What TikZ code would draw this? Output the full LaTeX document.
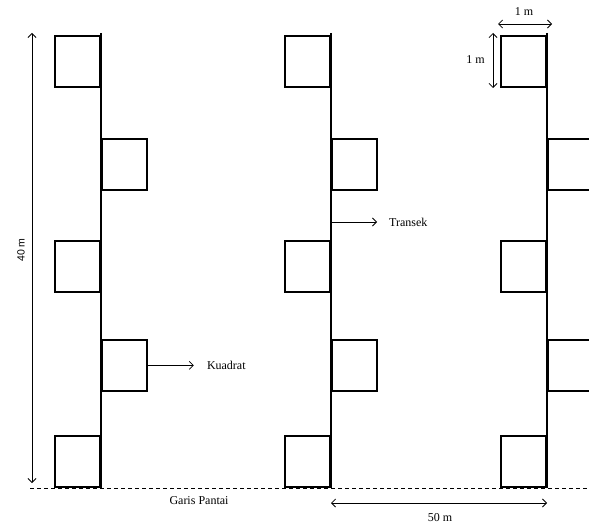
\documentclass[tikz,border=0pt]{standalone}
\usepackage{fontspec}
\setmainfont{Liberation Serif}
\newfontfamily\labelsans{Liberation Sans}
\usetikzlibrary{arrows.meta, positioning}

\begin{document}
\begin{tikzpicture}[x=1pt, y=-1pt,
    transek/.style={line width=2pt},
    kuadrat/.style={draw, line width=1.8pt, minimum width=45pt, minimum height=51pt, inner sep=0pt},
    ukuran/.style={line width=0.8pt, {Straight Barb[length=4pt]}-{Straight Barb[length=4pt]}},
    tunjuk/.style={line width=0.8pt, -{Straight Barb[length=4pt]}},
    teks/.style={font=\fontsize{12}{14}\selectfont, inner sep=1pt}]

    \useasboundingbox (0,0) rectangle (589,524);
    \clip (0,0) rectangle (589,524);

    % garis pantai
    \coordinate (pantaiA) at (30,488);
    \coordinate (pantaiB) at (589,488);
    \draw[dash pattern=on 4pt off 3pt, line width=0.8pt] (pantaiA) -- (pantaiB);

    % transek dan kuadrat
    \foreach \x/\n in {101/1, 331/2, 547/3} {
        \coordinate (atas\n) at (\x,33);
        \coordinate (bawah\n) at (\x,488);
        \draw[transek] (atas\n) -- (bawah\n);
        \node[kuadrat, anchor=north east] (k\n-a) at (\x,35) {};
        \node[kuadrat, anchor=north west] (k\n-b) at (\x,138) {};
        \node[kuadrat, anchor=north east] (k\n-c) at (\x,240) {};
        \node[kuadrat, anchor=north west] (k\n-d) at (\x,339) {};
        \node[kuadrat, anchor=south east] (k\n-e) at (\x,488) {};
    }

    \node[teks, right=58pt of k1-d] (lblKuadrat) {Kuadrat};
    \draw[tunjuk, shorten >=12pt] (k1-d.east) -- (lblKuadrat.west);

    \coordinate (titikTransek) at (331,222);
    \node[teks, anchor=west] (lblTransek) at (388,222) {Transek};
    \draw[tunjuk, shorten >=11pt] (titikTransek) -- (lblTransek.west);

    \node[teks] (lblPantai) at (199,501) {Garis Pantai};

    \coordinate (jarakA) at (331,503);
    \coordinate (jarakB) at (547,503);
    \draw[ukuran] (jarakA) -- (jarakB);
    \node[teks] (lbl50) at (440,518) {50 m};

    \coordinate (tinggiA) at (32,33);
    \coordinate (tinggiB) at (32,483);
    \draw[ukuran] (tinggiA) -- (tinggiB);
    \node[font=\labelsans\fontsize{10.5}{12}\selectfont, rotate=90] (lbl40) at (21,250) {40 m};

    \coordinate (lebarA) at (498,24);
    \coordinate (lebarB) at (552,24);
    \draw[ukuran] (lebarA) -- (lebarB);
    \node[teks] (lblLebar) at (524,12) {1 m};

    \coordinate (sisiA) at (493,33);
    \coordinate (sisiB) at (493,88);
    \draw[ukuran] (sisiA) -- (sisiB);
    \node[teks, anchor=east] (lblSisi) at (486,60) {1 m};

\end{tikzpicture}
\end{document}
